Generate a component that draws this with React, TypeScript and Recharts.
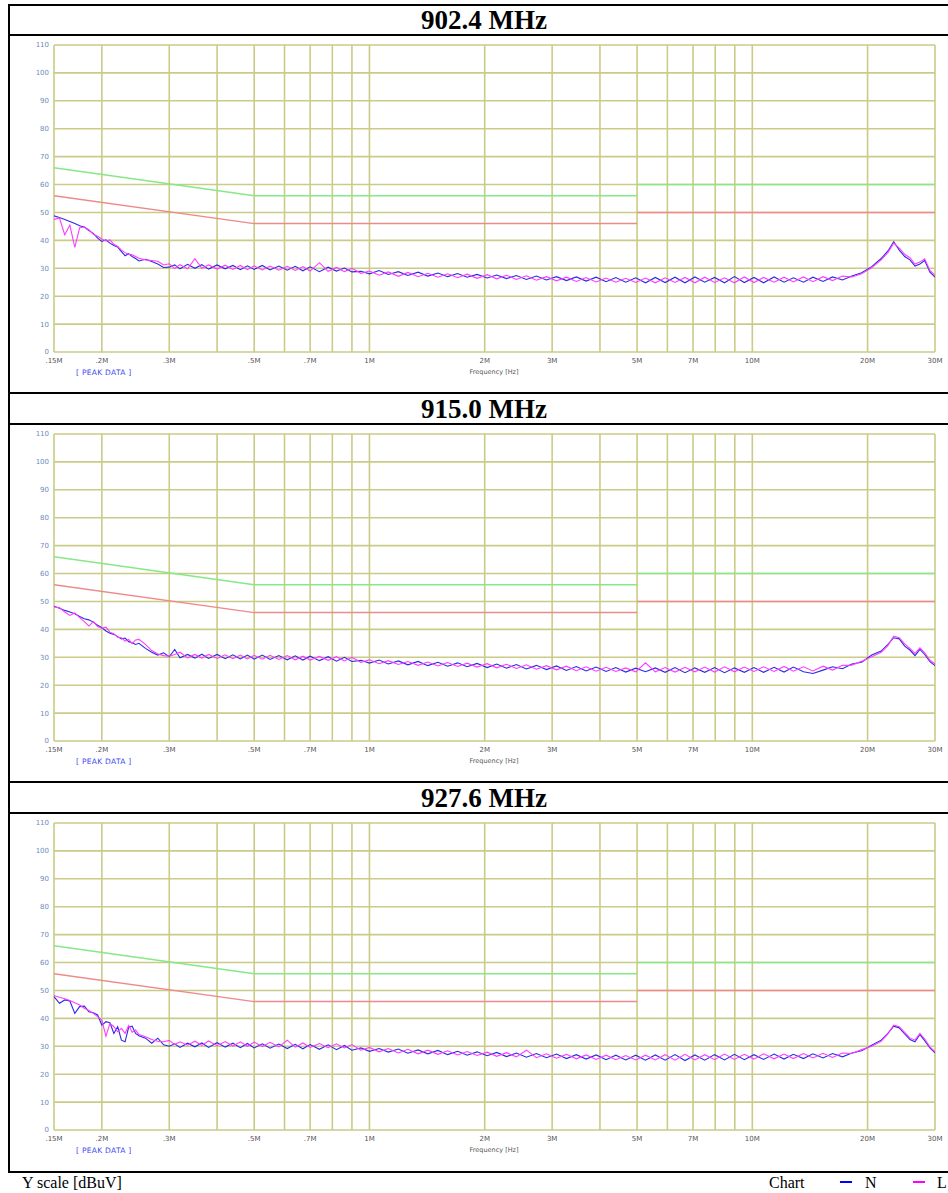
import React from 'react';
import { LineChart, Line, XAxis, YAxis, CartesianGrid } from 'recharts';

const PANEL_TITLES = ['902.4 MHz', '915.0 MHz', '927.6 MHz'];

const FREQ = [
  0.150, 0.155, 0.160, 0.165, 0.170, 0.175, 0.180, 0.185, 0.190, 0.195,
  0.200, 0.205, 0.210, 0.215, 0.220, 0.225, 0.230, 0.235, 0.240, 0.245,
  0.250, 0.260, 0.270, 0.280, 0.290, 0.300, 0.310, 0.320, 0.335, 0.350,
  0.365, 0.380, 0.400, 0.420, 0.440, 0.460, 0.480, 0.500, 0.525, 0.550,
  0.580, 0.610, 0.640, 0.670, 0.700, 0.740, 0.780, 0.820, 0.860, 0.900,
  0.950, 1.00, 1.06, 1.12, 1.19, 1.26, 1.34, 1.42, 1.51, 1.60,
  1.70, 1.80, 1.91, 2.03, 2.15, 2.28, 2.42, 2.57, 2.73, 2.90,
  3.08, 3.27, 3.47, 3.68, 3.91, 4.15, 4.40, 4.67, 4.96, 5.26,
  5.58, 5.92, 6.28, 6.67, 7.08, 7.51, 7.97, 8.46, 8.98, 9.53,
  10.1, 10.7, 11.4, 12.1, 12.8, 13.6, 14.4, 15.3, 16.2, 17.2,
  18.2, 19.3, 20.5, 21.7, 22.6, 23.4, 24.2, 25.0, 25.8, 26.6,
  27.4, 28.2, 29.1, 30.0,
];

const N_902 = [
  48.8, 48.2, 47.5, 46.8, 46.0, 45.2, 44.8, 43.5, 42.5, 40.8,
  39.6, 40.2, 39.0, 38.2, 37.6, 36.0, 34.5, 35.2, 34.2, 33.5,
  32.6, 33.2, 32.4, 31.5, 30.3, 30.4, 31.2, 29.8, 31.4, 30.0,
  31.3, 29.7, 31.2, 29.8, 31.0, 29.5, 30.9, 29.6, 31.0, 29.4,
  30.8, 29.3, 30.7, 29.1, 30.5, 28.8, 30.4, 29.0, 30.1, 28.7,
  28.9, 28.0, 29.2, 27.8, 28.8, 27.4, 28.6, 27.2, 28.3, 27.0,
  28.1, 26.8, 27.8, 26.5, 27.6, 26.3, 27.4, 26.0, 27.2, 25.8,
  27.0, 25.6, 26.9, 25.4, 26.8, 25.2, 26.7, 25.0, 26.6, 24.8,
  26.7, 24.9, 26.8, 24.8, 26.9, 25.0, 26.7, 24.8, 27.0, 24.9,
  26.7, 24.8, 26.9, 25.0, 26.6, 25.0, 26.8, 25.3, 26.9, 25.8,
  27.2, 28.4, 30.6, 33.5, 36.2, 39.5, 36.5, 34.2, 33.0, 30.8,
  31.5, 32.8, 28.6, 26.8,
];
const L_902 = [
  47.5, 48.0, 42.0, 45.5, 37.5, 44.5, 44.8, 43.8, 42.2, 41.5,
  40.5, 39.8, 40.2, 38.6, 37.8, 36.5, 35.6, 35.0, 34.8, 34.2,
  33.6, 33.0, 32.8, 32.5, 31.2, 31.6, 29.9, 31.3, 29.8, 33.4,
  30.0, 31.2, 29.7, 31.1, 29.6, 31.0, 29.5, 30.9, 29.4, 30.8,
  29.3, 30.7, 29.2, 30.6, 29.0, 32.0, 28.9, 30.3, 28.8, 30.0,
  28.2, 29.0, 27.5, 28.7, 27.1, 28.5, 27.0, 28.2, 26.8, 28.0,
  26.6, 27.9, 26.4, 27.7, 26.2, 27.5, 26.0, 27.3, 25.7, 27.0,
  25.5, 26.8, 25.3, 26.7, 25.1, 26.5, 25.0, 26.4, 24.9, 26.5,
  24.8, 26.6, 24.9, 26.7, 24.8, 26.8, 24.9, 26.6, 24.8, 26.9,
  24.9, 26.7, 25.0, 26.8, 25.1, 26.9, 25.2, 27.0, 25.6, 27.2,
  26.9, 28.0, 30.2, 33.0, 35.6, 39.0, 37.2, 35.0, 33.8, 31.5,
  32.2, 33.4, 29.2, 27.5,
];

const N_915 = [
  48.3, 47.6, 46.8, 46.2, 45.6, 44.6, 43.8, 43.4, 42.6, 41.5,
  40.6, 39.4, 38.6, 38.2, 37.4, 36.6, 36.9, 35.6, 35.2, 34.6,
  35.0, 33.2, 31.8, 30.8, 31.6, 30.2, 32.8, 29.8, 31.0, 29.7,
  31.1, 29.6, 31.0, 29.5, 30.9, 29.4, 30.8, 29.3, 30.8, 29.2,
  30.6, 29.1, 30.5, 29.0, 30.4, 28.8, 30.2, 28.6, 30.0, 28.5,
  28.9, 27.9, 29.0, 27.6, 28.7, 27.3, 28.5, 27.0, 28.2, 26.8,
  28.0, 26.6, 27.8, 26.3, 27.6, 26.1, 27.4, 25.8, 27.1, 25.6,
  26.9, 25.3, 26.7, 25.1, 26.5, 24.9, 26.3, 24.7, 26.1, 24.8,
  26.2, 24.6, 26.3, 24.5, 26.2, 24.6, 26.3, 24.5, 26.2, 24.6,
  26.3, 24.6, 26.4, 24.7, 26.5, 24.8, 24.2, 25.4, 26.6, 25.9,
  27.6, 28.2, 30.8, 32.2, 34.6, 37.0, 36.6, 34.0, 32.6, 30.6,
  32.8, 31.0, 28.4, 27.0,
];
const L_915 = [
  48.0, 47.8, 46.2, 45.0, 45.9, 44.2, 42.8, 41.2, 42.8, 41.0,
  40.4, 40.8, 39.0, 38.4, 37.2, 37.0, 35.8, 36.4, 34.9, 36.2,
  36.4, 34.6, 32.4, 31.2, 30.6, 30.4, 31.0, 31.8, 29.8, 31.0,
  29.7, 31.0, 29.6, 30.9, 29.5, 30.8, 29.4, 30.7, 29.3, 30.7,
  29.2, 30.6, 29.1, 30.4, 29.0, 30.3, 28.9, 30.2, 28.7, 30.0,
  28.2, 29.1, 27.7, 28.8, 27.4, 28.5, 27.1, 28.3, 26.9, 28.1,
  26.7, 27.9, 26.5, 27.7, 26.2, 27.5, 26.0, 27.3, 25.7, 27.0,
  25.5, 26.8, 25.2, 26.6, 25.0, 26.4, 24.9, 26.2, 24.8, 28.0,
  24.8, 26.3, 24.7, 26.4, 24.8, 26.5, 24.7, 26.6, 24.8, 26.5,
  24.9, 26.6, 24.9, 26.7, 25.0, 26.6, 25.1, 26.8, 25.4, 27.1,
  27.2, 28.6, 30.2, 31.8, 34.2, 37.6, 37.0, 34.8, 33.2, 31.4,
  33.4, 31.6, 29.0, 27.6,
];

const N_927 = [
  47.8, 45.4, 46.6, 46.2, 41.8, 44.2, 44.4, 42.4, 42.0, 41.2,
  37.6, 38.8, 38.4, 34.6, 37.0, 32.2, 31.6, 36.8, 37.2, 34.6,
  33.8, 32.9, 31.1, 32.9, 30.5, 30.0, 30.9, 29.6, 31.1, 29.8,
  31.2, 29.6, 31.3, 29.7, 31.1, 29.5, 31.0, 29.4, 30.9, 29.3,
  30.8, 29.2, 30.7, 29.1, 30.6, 28.9, 30.5, 28.8, 30.3, 28.6,
  29.4, 28.2, 29.2, 27.9, 29.0, 27.5, 28.7, 27.3, 28.5, 27.0,
  28.2, 26.8, 28.0, 26.6, 27.8, 26.3, 27.6, 26.1, 27.4, 25.9,
  27.2, 25.6, 27.0, 25.4, 26.9, 25.2, 26.8, 25.1, 26.8, 25.0,
  26.9, 25.0, 27.0, 24.9, 26.9, 25.0, 27.0, 25.1, 27.1, 25.2,
  27.0, 25.3, 27.2, 25.4, 27.1, 25.6, 27.3, 25.8, 27.4, 26.2,
  27.6, 28.4, 30.4, 32.2, 34.6, 37.2, 36.6, 34.4, 32.4, 31.6,
  34.2, 32.0, 29.4, 27.6,
];
const L_927 = [
  48.2, 47.6, 47.0, 46.4, 45.6, 44.8, 43.6, 42.8, 41.8, 40.6,
  39.4, 33.6, 38.2, 37.0, 35.2, 36.4, 34.6, 37.4, 35.0, 35.8,
  34.2, 33.4, 32.4, 31.8, 31.6, 32.1, 30.6, 31.6, 30.4, 31.8,
  30.3, 31.9, 30.2, 31.7, 30.1, 31.6, 30.0, 31.5, 29.9, 31.4,
  29.8, 32.2, 29.7, 31.2, 29.6, 31.0, 29.5, 30.9, 29.4, 30.6,
  28.6, 29.6, 28.0, 29.2, 27.6, 28.9, 27.3, 28.6, 27.1, 28.4,
  26.9, 28.1, 26.7, 27.9, 26.4, 27.7, 26.2, 28.6, 25.9, 27.3,
  25.7, 27.1, 25.5, 26.9, 25.3, 26.8, 25.2, 26.7, 25.1, 26.8,
  25.1, 27.0, 25.0, 27.1, 25.1, 27.0, 25.2, 27.2, 25.3, 27.1,
  25.4, 27.3, 25.5, 27.2, 25.6, 27.4, 25.8, 27.5, 26.0, 27.6,
  27.4, 28.8, 30.0, 31.8, 34.4, 37.6, 37.0, 35.0, 33.0, 32.2,
  34.6, 32.6, 29.8, 28.0,
];

const PANEL_N = [N_902, N_915, N_927];
const PANEL_L = [L_902, L_915, L_927];

const QP_F1 = [0.15, 0.5, 5];
const QP_V1 = [66, 56, 56];
const QP_F2 = [5, 30];
const QP_V2 = [60, 60];
const AV_F1 = [0.15, 0.5, 5];
const AV_V1 = [56, 46, 46];
const AV_F2 = [5, 30];
const AV_V2 = [50, 50];

const X_TICKS = [0.15, 0.2, 0.3, 0.4, 0.5, 0.6, 0.7, 0.8, 0.9, 1, 2, 3, 4, 5, 6, 7, 8, 9, 10, 20, 30];
const X_LABELS = ['.15M', '.2M', '.3M', '', '.5M', '', '.7M', '', '', '1M', '2M', '3M', '', '5M', '', '7M', '', '', '10M', '20M', '30M'];
const Y_TICKS = [0, 10, 20, 30, 40, 50, 60, 70, 80, 90, 100, 110];

const GRID = '#cbcb88';
const zip = (f: number[], v: number[]) => f.map((x, i) => ({ f: x, v: v[i] }));

const labelFor = (v: number) => {
  const i = X_TICKS.findIndex((t) => Math.abs(t - v) < 1e-9);
  return i >= 0 ? X_LABELS[i] : '';
};

function Panel({ idx, top }: { idx: number; top: number }) {
  const data = FREQ.map((f, i) => ({ f, n: PANEL_N[idx][i], l: PANEL_L[idx][i] }));
  return (
    <div style={{ position: 'absolute', left: 0, top, width: 948, height: 358 }}>
      <LineChart width={948} height={358} data={data} margin={{ top: 10, right: 13, bottom: 21, left: 10 }}>
        <CartesianGrid stroke={GRID} strokeWidth={1.6} />
        <XAxis
          dataKey="f"
          type="number"
          scale="log"
          domain={[0.15, 30]}
          ticks={X_TICKS}
          allowDataOverflow
          interval={0}
          tickFormatter={labelFor}
          axisLine={false}
          tickLine={false}
          tickSize={0}
          tickMargin={6}
          height={20}
          tick={{ fontSize: 7, fill: '#555', fontFamily: 'DejaVu Sans' }}
        />
        <YAxis
          type="number"
          domain={[0, 110]}
          ticks={Y_TICKS}
          interval={0}
          width={44}
          axisLine={false}
          tickLine={false}
          tickSize={0}
          tickMargin={5}
          tick={{ fontSize: 7, fill: '#6d8dbb', fontFamily: 'DejaVu Sans' }}
        />
        <Line data={zip(QP_F1, QP_V1)} dataKey="v" stroke="#86e886" strokeWidth={1.5} dot={false} isAnimationActive={false} />
        <Line data={zip(QP_F2, QP_V2)} dataKey="v" stroke="#86e886" strokeWidth={1.5} dot={false} isAnimationActive={false} />
        <Line data={zip(AV_F1, AV_V1)} dataKey="v" stroke="#ee8a8a" strokeWidth={1.5} dot={false} isAnimationActive={false} />
        <Line data={zip(AV_F2, AV_V2)} dataKey="v" stroke="#ee8a8a" strokeWidth={1.5} dot={false} isAnimationActive={false} />
        <Line dataKey="n" stroke="#2a2ae8" strokeWidth={1.1} dot={false} isAnimationActive={false} />
        <Line dataKey="l" stroke="#ff3cff" strokeWidth={1.1} dot={false} isAnimationActive={false} />
      </LineChart>
      <div style={{ position: 'absolute', left: 76, top: 333, fontSize: 7.5, color: '#3b48ee', fontFamily: 'DejaVu Sans', letterSpacing: 0.3, whiteSpace: 'nowrap' }}>
        [ PEAK DATA ]
      </div>
      <div style={{ position: 'absolute', left: 444, width: 100, textAlign: 'center', top: 333, fontSize: 6.5, color: '#555', fontFamily: 'DejaVu Sans', whiteSpace: 'nowrap' }}>
        Frequency [Hz]
      </div>
    </div>
  );
}

const hLine = (y: number) => (
  <div key={'h' + y} style={{ position: 'absolute', left: 8, top: y, width: 940, height: 2, background: '#000' }} />
);

export default function App() {
  const titleTops = [4, 393, 782];
  const panelTops = [35, 424, 813];
  return (
    <div style={{ position: 'absolute', left: 0, top: 0, width: 948, height: 1193, background: '#fff', overflow: 'hidden' }}>
      {titleTops.map((t, i) => (
        <div
          key={'t' + i}
          style={{
            position: 'absolute', left: 384, width: 200, top: t + 2, height: 29, lineHeight: '29px', textAlign: 'center',
            fontFamily: '"Liberation Serif", "Times New Roman", serif', fontWeight: 'bold', fontSize: 27, color: '#000',
          }}
        >
          {PANEL_TITLES[i]}
        </div>
      ))}
      {panelTops.map((t, i) => (
        <Panel key={'p' + i} idx={i} top={t} />
      ))}
      {[4, 34, 392, 423, 781, 812, 1171].map((y) => hLine(y))}
      <div style={{ position: 'absolute', left: 8, top: 4, width: 2, height: 1169, background: '#000' }} />
      <div style={{ position: 'absolute', left: 22, top: 1174, fontFamily: '"Liberation Serif", serif', fontSize: 16, whiteSpace: 'nowrap' }}>
        Y scale [dBuV]
      </div>
      <div style={{ position: 'absolute', left: 769, top: 1174, fontFamily: '"Liberation Serif", serif', fontSize: 16, whiteSpace: 'nowrap' }}>
        Chart
      </div>
      <div style={{ position: 'absolute', left: 840, top: 1181, width: 12, height: 2, background: '#0000ff' }} />
      <div style={{ position: 'absolute', left: 865, top: 1174, fontFamily: '"Liberation Serif", serif', fontSize: 16 }}>N</div>
      <div style={{ position: 'absolute', left: 913, top: 1181, width: 12, height: 2, background: '#ff00ff' }} />
      <div style={{ position: 'absolute', left: 937, top: 1174, fontFamily: '"Liberation Serif", serif', fontSize: 16 }}>L</div>
    </div>
  );
}
